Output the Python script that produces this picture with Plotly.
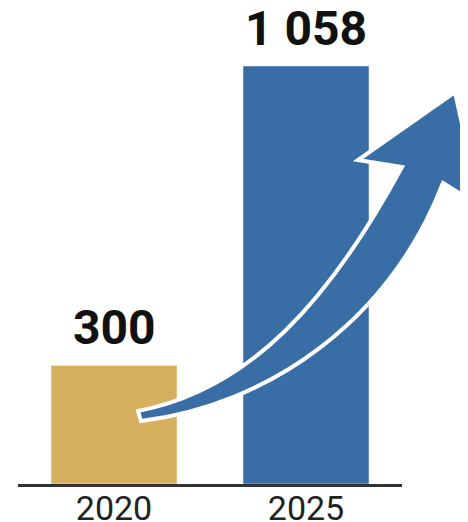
import plotly.graph_objects as go

years = ["2020", "2025"]
values = [300, 1058]
bar_colors = ["#D7B05F", "#396DA6"]

# page body adds an 8px offset around the figure
OFF = 8
W, H = 468 - OFF, 522 - OFF
ML, MR, MT, MB = 10, 66, 58, 38
PW, PH = W - ML - MR, H - MT - MB

xpos = list(range(len(years)))


def px(x, y):
    """screen pixel (reference image) -> paper coords"""
    return (x - OFF - ML) / PW, (H - MB - (y - OFF)) / PH


def path_from(cmds):
    out = []
    for c in cmds:
        if isinstance(c, str):
            out.append(c)
        else:
            xx, yy = px(*c)
            out.append(f"{xx:.4f},{yy:.4f}")
    return " ".join(out)


# decorative growth arrow (pixel geometry, converted to paper coords)
arrow_cmds = [
    "M", (138, 411),
    "C", (250, 390), (330, 300), (402, 167),
    "L", (358, 160),
    "L", (455, 92),
    "L", (480, 206),
    "L", (443, 183),
    "C", (390, 320), (270, 405), (141, 421),
    "Z",
]

fig = go.Figure()
fig.add_trace(go.Bar(
    x=xpos, y=values, marker=dict(color=bar_colors),
    width=0.656, hoverinfo="skip",
))

for xp, v in zip(xpos, values):
    fig.add_annotation(
        x=xp, y=v, xref="x", yref="y", text="<b>" + f"{v:,}".replace(",", " ") + "</b>",
        showarrow=False, yanchor="bottom", yshift=7,
        font=dict(family="Roboto", size=48, color="#111111"),
    )

fig.add_shape(
    type="path", xref="paper", yref="paper", path=path_from(arrow_cmds),
    fillcolor="#396DA6", line=dict(color="white", width=4),
)

fig.update_layout(
    width=W, height=H,
    margin=dict(l=ML, r=MR, t=MT, b=MB, pad=0, autoexpand=False),
    paper_bgcolor="white", plot_bgcolor="white",
    showlegend=False,
    xaxis=dict(
        range=[-0.5, len(years) - 0.5], automargin=False,
        tickmode="array", tickvals=xpos, ticktext=years,
        showline=True, linecolor="#333333", linewidth=3,
        showgrid=False, zeroline=False, ticks="",
        ticklabelstandoff=-8,
        tickfont=dict(family="Roboto", size=34, color="#222222"),
    ),
    yaxis=dict(
        range=[0, values[-1]], visible=False, showgrid=False, zeroline=False,
        automargin=False,
    ),
)

fig.write_html("out.html")
